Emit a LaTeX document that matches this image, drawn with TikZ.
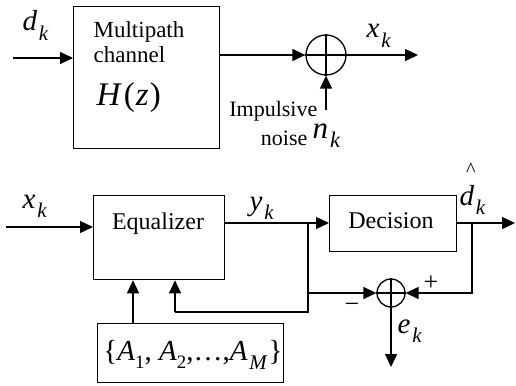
\documentclass[tikz,border=0pt]{standalone}
\usepackage{fontspec}
\setmainfont{Liberation Serif}
\usetikzlibrary{arrows.meta}
\newcommand\lbl[2]{\textit{#1}\kern0.06em\raisebox{-0.32em}{\scalebox{0.72}{\textit{#2}}}}
\newcommand\lblu[2]{\textit{#1}\raisebox{-0.3em}{\scalebox{0.65}{#2}}}
\begin{document}
\begin{tikzpicture}[x=1pt,y=-1pt,
  line width=1.3pt,
  >={Triangle[length=13pt,width=12pt]},
  blk/.style={draw,anchor=north west,inner sep=0pt},
  sumc/.style={draw,circle,inner sep=0pt},
  txt/.style={inner sep=0pt,font=\fontsize{23}{25}\selectfont},
  mlbl/.style={inner sep=0pt,font=\fontsize{29}{31}\selectfont}]
\useasboundingbox (0,0) rectangle (516,385);
% ---------- top: channel ----------
\node[blk,minimum width=146pt,minimum height=142pt] (ch) at (73,6) {};
\node[txt,anchor=base west] (t1) at (93,38) {Multipath};
\node[txt,anchor=base west] (t2) at (93,63) {channel};
\node[inner sep=0pt,anchor=base west,font=\fontsize{33}{35}\selectfont] (hz) at (96,106) {\textit{H}\kern2pt(\kern1pt\textit{z}\kern1pt)};
\node[mlbl,anchor=base west] (dk) at (22,31) {\lbl{d}{k}};
\coordinate (din) at (13,58);
\draw[->] (din) -- (din -| ch.west);
\node[sumc,minimum size=40pt] (s1) at (326,55) {};
\draw[line width=1.1pt] (s1.north) -- (s1.south) (s1.west) -- (s1.east);
\draw[->] (s1 -| ch.east) -- (s1.west);
\coordinate (xout) at (418,55);
\draw[->] (s1.east) -- (xout);
\node[mlbl,anchor=base west] (xk) at (366,38) {\lbl{x}{k}};
\coordinate (nin) at (326,110);
\draw[->] (nin) -- (s1.south);
\node[txt,anchor=base east,font=\fontsize{22}{24}\selectfont] (imp) at (318,117) {Impulsive};
\node[txt,anchor=base east,font=\fontsize{22}{24}\selectfont] (noi) at (308,145) {noise};
\node[inner sep=0pt,anchor=base west,font=\fontsize{31}{33}\selectfont] (nk) at (312,138) {\lbl{n}{k}};
% ---------- bottom: equalizer ----------
\node[blk,minimum width=131pt,minimum height=84pt] (eq) at (93,195) {};
\node[txt,anchor=base,font=\fontsize{24}{26}\selectfont] (eqt) at (158,229) {Equalizer};
\node[mlbl,anchor=base west] (xk2) at (22,208) {\lbl{x}{k}};
\coordinate (xin) at (6,227);
\draw[->] (xin) -- (xin -| eq.west);
\node[blk,minimum width=127pt,minimum height=56pt] (dec) at (329,195) {};
\node[txt,anchor=base,font=\fontsize{24}{26}\selectfont] (dect) at (391,228) {Decision};
\node[mlbl,anchor=base west] (yk) at (249,210) {\lbl{y}{k}};
\coordinate (br1) at (308,223);
\coordinate (br2) at (472,223);
\draw[->] (br1 -| eq.east) -- (br1 -| dec.west);
\coordinate (dout) at (515,223);
\draw[->] (br2 -| dec.east) -- (dout);
\node[mlbl,anchor=base west] (dh) at (459,205) {\rlap{\kern0.22em\raisebox{1.0em}{\scalebox{0.7}{\textasciicircum}}}\lbl{d}{k}};
\node[sumc,minimum size=28pt] (s2) at (391,293) {};
\draw[line width=1.1pt] (s2.north) -- (s2.south) (s2.west) -- (s2.east);
\coordinate (fb1) at (308,312);
\coordinate (fb2) at (175,312);
\draw (br1) -- (fb1) -- (fb2);
\draw[->] (fb2) -- (fb2 |- eq.south);
\draw[->] (br1 |- s2) -- (s2.west);
\draw[->] (br2) -- (br2 |- s2) -- (s2.east);
\node[inner sep=0pt,font=\fontsize{26}{28}\selectfont] (plus) at (431,283) {+};
\node[inner sep=0pt,font=\fontsize{26}{28}\selectfont] (minus) at (352,308) {\textminus};
\coordinate (eout) at (391,367);
\draw[->] (s2.south) -- (eout);
\node[mlbl,anchor=base west] (ek) at (397,333) {\lbl{e}{k}};
\node[blk,minimum width=186pt,minimum height=59pt] (ab) at (97,323) {};
\node[inner sep=0pt,anchor=base,font=\fontsize{29}{31}\selectfont] (abt) at (193,360) {\{\lblu{A}{1}, \lblu{A}{2},\ldots,\lbl{A}{M}\kern1pt\}};
\draw[->] (ab.north -| 133,0) -- (eq.south -| 133,0);
\end{tikzpicture}
\end{document}
